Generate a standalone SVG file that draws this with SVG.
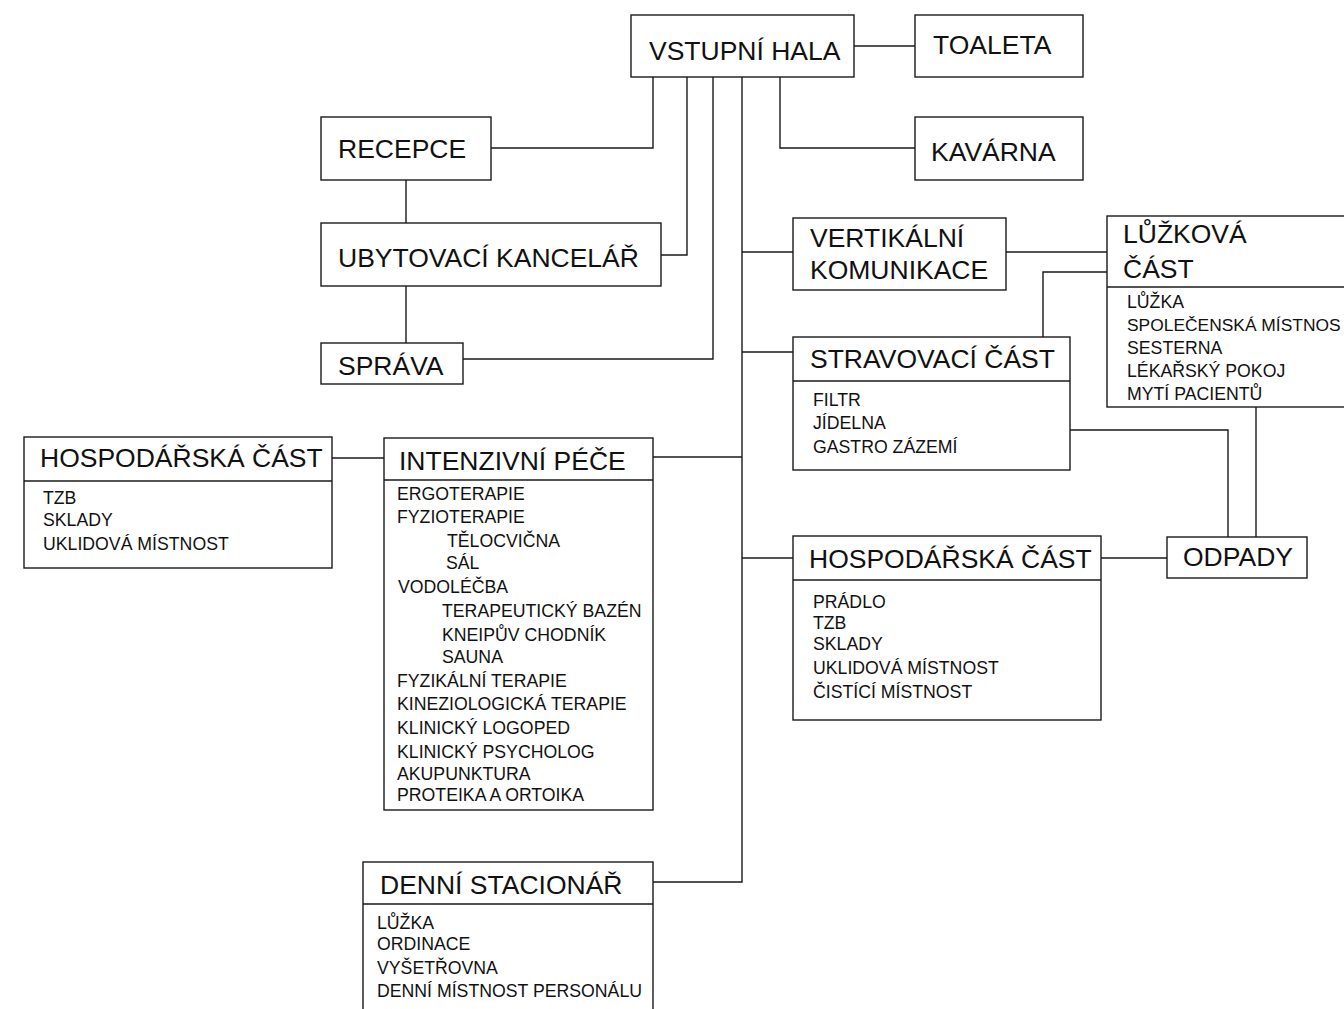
<svg xmlns="http://www.w3.org/2000/svg" width="1344" height="1009" viewBox="0 0 1344 1009">
<style>
.box{fill:#fff;stroke:#1a1a1a;stroke-width:1.4}
.div{stroke:#1a1a1a;stroke-width:1.4}
.con{fill:none;stroke:#1a1a1a;stroke-width:1.4}
.h{font-family:"Liberation Sans",Arial,sans-serif;font-size:26.5px;fill:#111}
.s{font-family:"Liberation Sans",Arial,sans-serif;font-size:17.7px;fill:#111}
</style>
<rect width="1344" height="1009" fill="#fff"/>
<g id="connectors">
<path class="con" d="M854,46 H915"/>
<path class="con" d="M653,77 V148 H491"/>
<path class="con" d="M687,77 V255 H661"/>
<path class="con" d="M713,77 V359 H463"/>
<path class="con" d="M780,77 V148 H915"/>
<path class="con" d="M742,77 V882 H653"/>
<path class="con" d="M742,252 H793"/>
<path class="con" d="M742,352 H793"/>
<path class="con" d="M742,457 H653"/>
<path class="con" d="M742,558 H793"/>
<path class="con" d="M384,458 H332"/>
<path class="con" d="M406,180 V223"/>
<path class="con" d="M406,286 V343"/>
<path class="con" d="M1006,252 H1107"/>
<path class="con" d="M1043,337 V272 H1107"/>
<path class="con" d="M1070,430 H1228 V537"/>
<path class="con" d="M1256,407 V537"/>
<path class="con" d="M1101,558 H1167"/>
</g>
<g id="vstupni-hala">
<rect class="box" x="631" y="15" width="223" height="62"/>
<text class="h" x="649" y="60">VSTUPNÍ HALA</text>
</g>
<g id="toaleta">
<rect class="box" x="915" y="15" width="168" height="62"/>
<text class="h" x="933" y="54">TOALETA</text>
</g>
<g id="kavarna">
<rect class="box" x="915" y="117" width="168" height="63"/>
<text class="h" x="931" y="161">KAVÁRNA</text>
</g>
<g id="recepce">
<rect class="box" x="321" y="117" width="170" height="63"/>
<text class="h" x="338" y="158">RECEPCE</text>
</g>
<g id="ubytovaci-kancelar">
<rect class="box" x="321" y="223" width="340" height="63"/>
<text class="h" x="338" y="267">UBYTOVACÍ KANCELÁŘ</text>
</g>
<g id="sprava">
<rect class="box" x="321" y="343" width="142" height="41"/>
<text class="h" x="338" y="375">SPRÁVA</text>
</g>
<g id="vertikalni-komunikace">
<rect class="box" x="793" y="218" width="213" height="72"/>
<text class="h" x="810" y="247">VERTIKÁLNÍ</text>
<text class="h" x="810" y="279">KOMUNIKACE</text>
</g>
<g id="luzkova-cast">
<rect class="box" x="1107" y="216" width="250" height="191"/>
<line class="div" x1="1107" y1="287" x2="1357" y2="287"/>
<text class="h" x="1123" y="243">LŮŽKOVÁ</text>
<text class="h" x="1123" y="278">ČÁST</text>
<text class="s" x="1127" y="308">LŮŽKA</text>
<text class="s" x="1127" y="331" style="font-size:17.4px">SPOLEČENSKÁ MÍSTNOS</text>
<text class="s" x="1127" y="354">SESTERNA</text>
<text class="s" x="1127" y="377">LÉKAŘSKÝ POKOJ</text>
<text class="s" x="1127" y="400">MYTÍ PACIENTŮ</text>
</g>
<g id="stravovaci-cast">
<rect class="box" x="793" y="337" width="277" height="133"/>
<line class="div" x1="793" y1="381" x2="1070" y2="381"/>
<text class="h" x="810" y="368">STRAVOVACÍ ČÁST</text>
<text class="s" x="813" y="406">FILTR</text>
<text class="s" x="813" y="429">JÍDELNA</text>
<text class="s" x="813" y="453">GASTRO ZÁZEMÍ</text>
</g>
<g id="hospodarska-cast-left">
<rect class="box" x="24" y="437" width="308" height="131"/>
<line class="div" x1="24" y1="481" x2="332" y2="481"/>
<text class="h" x="40" y="467">HOSPODÁŘSKÁ ČÁST</text>
<text class="s" x="43" y="504">TZB</text>
<text class="s" x="43" y="526">SKLADY</text>
<text class="s" x="43" y="550">UKLIDOVÁ MÍSTNOST</text>
</g>
<g id="intenzivni-pece">
<rect class="box" x="384" y="438" width="269" height="372"/>
<line class="div" x1="384" y1="480" x2="653" y2="480"/>
<text class="h" x="399" y="470">INTENZIVNÍ PÉČE</text>
<text class="s" x="397" y="500">ERGOTERAPIE</text>
<text class="s" x="397" y="523">FYZIOTERAPIE</text>
<text class="s" x="447" y="547">TĚLOCVIČNA</text>
<text class="s" x="446" y="569">SÁL</text>
<text class="s" x="398" y="593">VODOLÉČBA</text>
<text class="s" x="442" y="617">TERAPEUTICKÝ BAZÉN</text>
<text class="s" x="442" y="641">KNEIPŮV CHODNÍK</text>
<text class="s" x="442" y="663">SAUNA</text>
<text class="s" x="397" y="687">FYZIKÁLNÍ TERAPIE</text>
<text class="s" x="397" y="710">KINEZIOLOGICKÁ TERAPIE</text>
<text class="s" x="397" y="734">KLINICKÝ LOGOPED</text>
<text class="s" x="397" y="758">KLINICKÝ PSYCHOLOG</text>
<text class="s" x="397" y="780">AKUPUNKTURA</text>
<text class="s" x="397" y="801">PROTEIKA A ORTOIKA</text>
</g>
<g id="hospodarska-cast-right">
<rect class="box" x="793" y="536" width="308" height="184"/>
<line class="div" x1="793" y1="580" x2="1101" y2="580"/>
<text class="h" x="809" y="568">HOSPODÁŘSKÁ ČÁST</text>
<text class="s" x="813" y="608">PRÁDLO</text>
<text class="s" x="813" y="629">TZB</text>
<text class="s" x="813" y="650">SKLADY</text>
<text class="s" x="813" y="674">UKLIDOVÁ MÍSTNOST</text>
<text class="s" x="813" y="698">ČISTÍCÍ MÍSTNOST</text>
</g>
<g id="odpady">
<rect class="box" x="1167" y="537" width="140" height="41"/>
<text class="h" x="1183" y="566">ODPADY</text>
</g>
<g id="denni-stacionar">
<rect class="box" x="363" y="862" width="290" height="160"/>
<line class="div" x1="363" y1="904" x2="653" y2="904"/>
<text class="h" x="380" y="894">DENNÍ STACIONÁŘ</text>
<text class="s" x="377" y="929">LŮŽKA</text>
<text class="s" x="377" y="950">ORDINACE</text>
<text class="s" x="377" y="974">VYŠETŘOVNA</text>
<text class="s" x="377" y="997">DENNÍ MÍSTNOST PERSONÁLU</text>
</g>
</svg>
